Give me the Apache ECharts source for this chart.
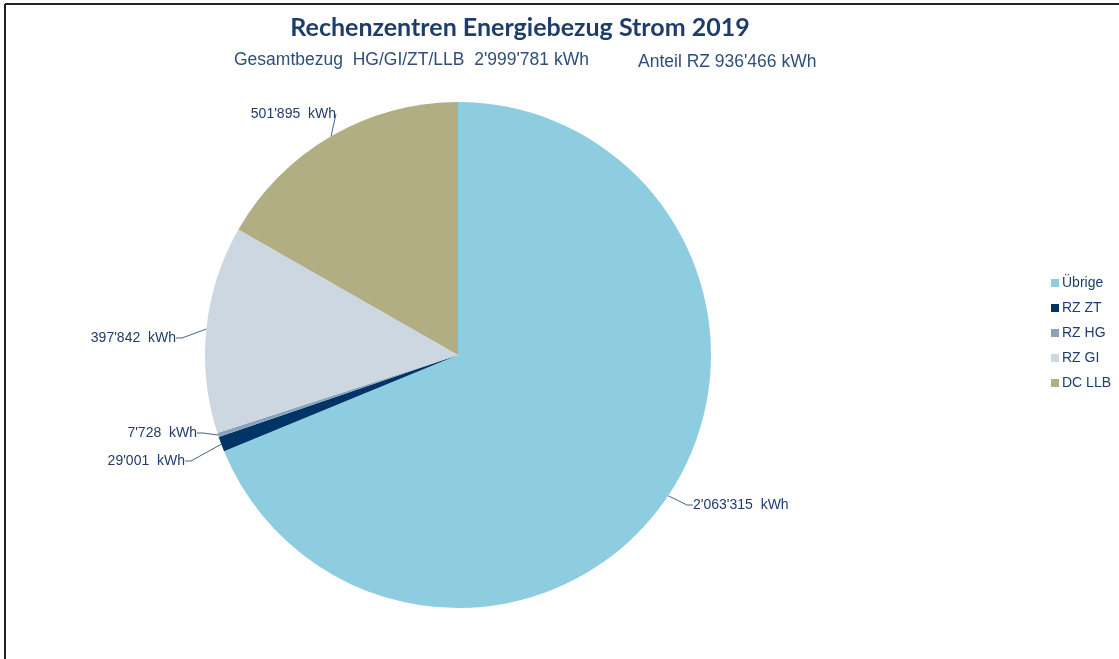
<!DOCTYPE html>
<html>
<head>
<meta charset="utf-8">
<script src="https://cdn.jsdelivr.net/npm/echarts@6/dist/echarts.min.js"></script>
<style>
html,body{margin:0;padding:0;background:#fff;}
#c{width:1119px;height:659px;}
</style>
</head>
<body>
<div id="c"></div>
<script>
const categories = ['Übrige', 'RZ ZT', 'RZ HG', 'RZ GI', 'DC LLB'];
const values = [2063315, 29001, 7728, 397842, 501895];
const colors = ['#8ECDE0', '#003366', '#8CA2BA', '#CDD7E1', '#B2AE84'];
const titleText = 'Rechenzentren Energiebezug Strom 2019';
const subLeft = "Gesamtbezug  HG/GI/ZT/LLB  2'999'781 kWh";
const subRight = "Anteil RZ 936'466 kWh";

function fmt(v){
  return String(v).replace(/\B(?=(\d{3})+(?!\d))/g, "'");
}

// label anchor positions (text placement only)
const labelPos = [
  {x: 693, y: 505, align: 'left'},
  {x: 185, y: 461, align: 'right'},
  {x: 197, y: 433, align: 'right'},
  {x: 176, y: 338, align: 'right'},
  {x: 336, y: 114, align: 'right'}
];

const chart = echarts.init(document.getElementById('c'));
chart.setOption({
  animation: false,
  color: colors,
  title: [
    {text: titleText, left: 515, top: 10, textAlign: 'center',
     textStyle: {fontFamily: 'Lato', fontWeight: 'bold', fontSize: 25, color: '#1F3D6B'}},
    {text: subLeft, left: 229, top: 46,
     textStyle: {fontFamily: 'Liberation Sans', fontWeight: 'normal', fontSize: 17.5, color: '#2F4F7A'}},
    {text: subRight, left: 633, top: 48,
     textStyle: {fontFamily: 'Liberation Sans', fontWeight: 'normal', fontSize: 17.5, color: '#2F4F7A'}}
  ],
  legend: {
    orient: 'vertical',
    left: 1046,
    top: 271,
    itemWidth: 8,
    itemHeight: 8,
    itemGap: 11,
    icon: 'rect',
    data: categories,
    textStyle: {fontFamily: 'Liberation Sans', fontSize: 14, color: '#1F3D6B', padding: [0,0,0,-2]}
  },
  graphic: [
    {type: 'line', shape: {x1: 5, y1: 4, x2: 1119, y2: 4}, style: {stroke: '#222', lineWidth: 2}},
    {type: 'line', shape: {x1: 5, y1: 4, x2: 5, y2: 659}, style: {stroke: '#222', lineWidth: 2}}
  ],
  series: [{
    type: 'pie',
    center: [458, 355],
    radius: 253,
    startAngle: 90,
    clockwise: true,
    data: categories.map((n, i) => ({name: n, value: values[i]})),
    label: {
      show: true,
      formatter: p => fmt(p.value) + '  kWh',
      fontFamily: 'Liberation Sans',
      fontSize: 14,
      color: '#1F3D6B'
    },
    labelLine: {show: true, length: 15, length2: 6, lineStyle: {color: '#4A6387', width: 1}},
    labelLayout: function (params) {
      const p = labelPos[params.dataIndex];
      return {x: p.x, y: p.y, align: p.align, verticalAlign: 'middle'};
    },
    emphasis: {disabled: true}
  }]
});
</script>
</body>
</html>
